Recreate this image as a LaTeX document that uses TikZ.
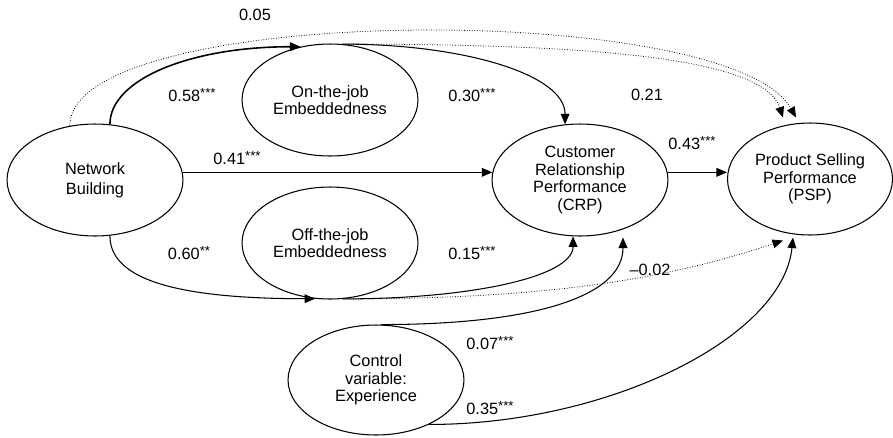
\documentclass[tikz,border=0pt]{standalone}
\usepackage{fontspec}
\setmainfont{Liberation Sans}
\usetikzlibrary{arrows.meta, shapes.geometric, calc}
\newcommand{\sig}[1]{\raisebox{2.2pt}{\fontsize{7.5}{7.5}\selectfont #1}}

\begin{document}
\begin{tikzpicture}[
    % GLOBAL CFG
    x=0.02cm, y=-0.02cm,
    font=\fontsize{9.3}{10}\selectfont,
    >={Triangle[length=6pt,width=5pt]},
    % Styles
    construct/.style={% For the latent variables
        ellipse,
        draw,
        line width=0.6pt,
        minimum width=3.52cm,
        minimum height=2.24cm,
        inner sep=1pt,
        align=center,
        },
    coef/.style={% For the path coefficients
        inner sep=1pt,
        },
    PathS/.style={% Significant paths
        ->,
        line width=0.6pt,
        },
    PathNS/.style={% Non significant paths
        ->,
        densely dotted,
        line width=0.45pt,
        },
    ]

    \useasboundingbox (0,0) rectangle (893,437);

    % Draw the constructs
    \node [construct] (nb) at (95,180) {Network\\[1.5pt]Building};
    \node [construct] (onj) at (330,100) {On-the-job\\Embeddedness};
    \node [construct] (offj) at (330,243) {Off-the-job\\Embeddedness};
    \node [construct] (crp) at (580,180) {Customer\\Relationship\\Performance\\(CRP)};
    \node [construct, minimum width=3.3cm] (psp) at (810,179) {Product Selling\\Performance\\(PSP)};
    \node [construct, minimum height=2.2cm] (ctrl) at (376,380) {Control\\variable:\\Experience};

    % Draw the coefficients
    \node [coef] (c05) at (255,15) {0.05};
    \node [coef] (c58) at (192,95) {0.58\sig{***}};
    \node [coef] (c30) at (472,95) {0.30\sig{***}};
    \node [coef] (c21) at (647,95) {0.21};
    \node [coef] (c41) at (237,158) {0.41\sig{***}};
    \node [coef] (c43) at (692,143) {0.43\sig{***}};
    \node [coef] (c60) at (189,253) {0.60\sig{**}};
    \node [coef] (c15) at (472,253) {0.15\sig{***}};
    \node [coef] (c02) at (650,270) {--0.02};
    \node [coef] (c07) at (490,343) {0.07\sig{***}};
    \node [coef] (c35) at (490,408) {0.35\sig{***}};

    % Upper paths
    \draw [PathS, line width=0.9pt] (nb.75) .. controls +(0,-45) and +(-110,0) .. (onj.119);
    \draw [PathS] (onj.77) .. controls +(120,0) and +(0,-50) .. (crp.105);
    \draw [PathNS] (nb.115) .. controls +(0,-123) and +(-66,-118) .. ($(psp.north)+(-14,-5)$);
    \draw [PathNS] (onj.77) .. controls +(250,0) and +(-20,-60) .. ($(psp.north)+(-27,-5)$);

    % Straight paths
    \draw [PathS] (nb.5) -- (crp.175);
    \draw [PathS] (crp.5) -- (crp.5 -| psp.west);

    % Lower paths
    \draw [PathS] (nb.285) .. controls +(0,40) and +(-150,0) .. (offj.255);
    \draw [PathS] (offj.283) .. controls +(130,0) and +(0,40) .. (crp.263);
    \draw [PathNS] (offj.283) .. controls +(200,0) and +(-120,40) .. ($(psp.south)+(-27,5)$);

    % Control variable
    \draw [PathS] (ctrl.85) .. controls +(150,0) and +(0,60) .. ($(crp.south)+(43,1)$);
    \draw [PathS] (ctrl.320) .. controls +(180,0) and +(-10,100) .. ($(psp.south)+(-17,2)$);

\end{tikzpicture}
\end{document}
